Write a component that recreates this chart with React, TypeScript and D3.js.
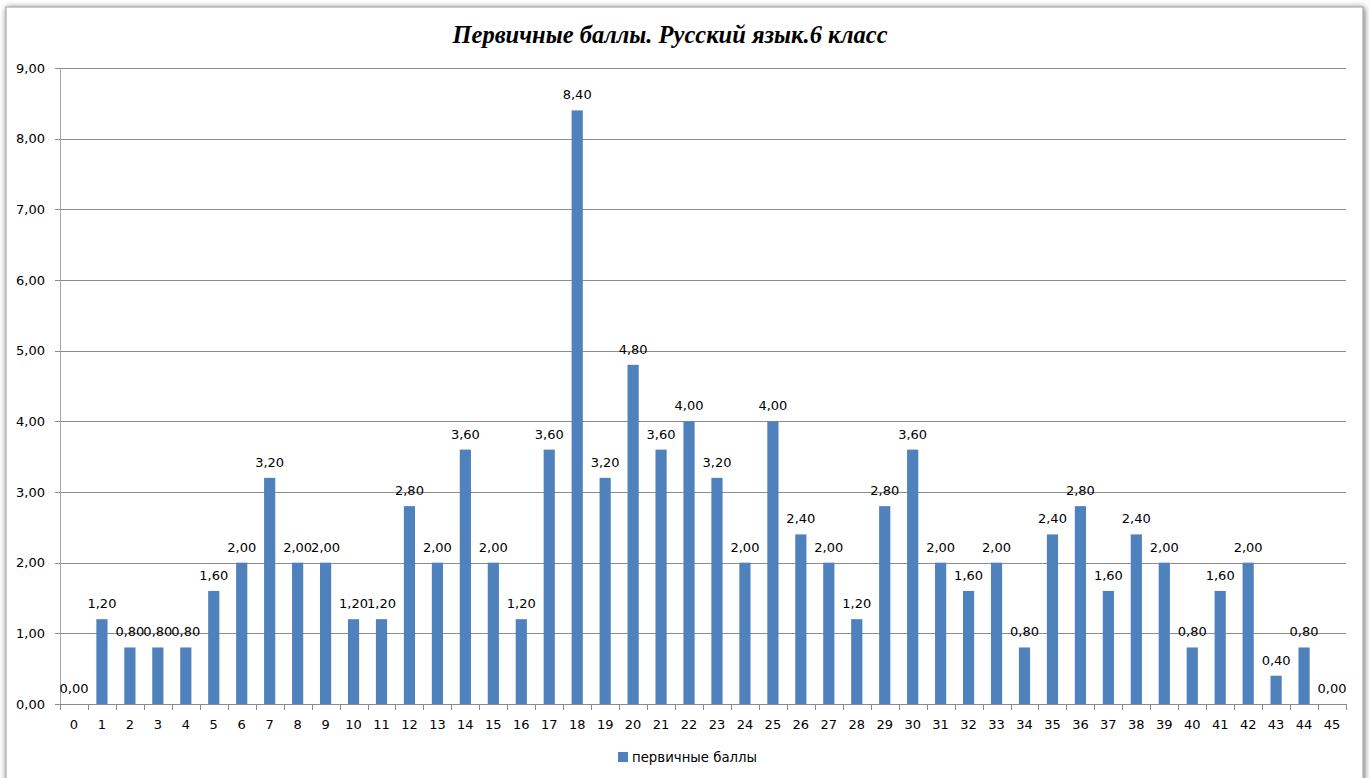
import React from "react";
import * as d3 from "d3";

const categories: string[] = Array.from({ length: 46 }, (_, i) => String(i));
const values: number[] = [
  0, 1.2, 0.8, 0.8, 0.8, 1.6, 2.0, 3.2, 2.0, 2.0, 1.2, 1.2, 2.8, 2.0, 3.6, 2.0,
  1.2, 3.6, 8.4, 3.2, 4.8, 3.6, 4.0, 3.2, 2.0, 4.0, 2.4, 2.0, 1.2, 2.8, 3.6,
  2.0, 1.6, 2.0, 0.8, 2.4, 2.8, 1.6, 2.4, 2.0, 0.8, 1.6, 2.0, 0.4, 0.8, 0,
];
const yTicks: number[] = [0, 1, 2, 3, 4, 5, 6, 7, 8, 9];
const title = "Первичные баллы. Русский язык.6 класс";
const seriesName = "первичные баллы";

const W = 1369;
const H = 778;
const plot = { left: 60, right: 1346, top: 68, bottom: 704 };
const fmt = (v: number) => v.toFixed(2).replace(".", ",");
const labelFont = "'DejaVu Sans', sans-serif";

export default function App() {
  const x = d3
    .scaleBand<string>()
    .domain(categories)
    .range([plot.left, plot.right])
    .paddingInner(0)
    .paddingOuter(0);
  const band = x.bandwidth();
  const y = d3.scaleLinear().domain([0, 9]).range([plot.bottom, plot.top]);
  const bw = band * 0.4;

  return (
    <svg
      width={W}
      height={H}
      style={{ position: "absolute", left: 0, top: 0, background: "#fff" }}
    >
      <defs>
        <filter id="sh" x="-5%" y="-5%" width="110%" height="110%">
          <feGaussianBlur in="SourceAlpha" stdDeviation="3" />
          <feOffset dx="1" dy="1" />
          <feComponentTransfer>
            <feFuncA type="linear" slope="0.6" />
          </feComponentTransfer>
          <feMerge>
            <feMergeNode />
            <feMergeNode in="SourceGraphic" />
          </feMerge>
        </filter>
      </defs>
      <rect x={0} y={0} width={W} height={H} fill="#fff" />
      <rect
        x={6}
        y={7}
        width={1357}
        height={790}
        fill="#fff"
        stroke="#9a9a9a"
        strokeWidth={1}
        filter="url(#sh)"
      />
      <text
        x={670}
        y={43}
        textAnchor="middle"
        fontFamily="'Liberation Serif', 'Times New Roman', serif"
        fontWeight="bold"
        fontStyle="italic"
        fontSize={24.5}
        fill="#000"
      >
        {title}
      </text>
      {yTicks.map((t) => (
        <g key={t}>
          <line
            x1={plot.left - 5}
            x2={plot.right}
            y1={Math.round(y(t)) + 0.5}
            y2={Math.round(y(t)) + 0.5}
            stroke="#8c8c8c"
            strokeWidth={1}
          />
          <text
            x={45}
            y={y(t) + 4.5}
            textAnchor="end"
            fontFamily={labelFont}
            fontSize={13}
            fill="#000"
          >
            {fmt(t)}
          </text>
        </g>
      ))}
      <line
        x1={plot.left + 0.5}
        x2={plot.left + 0.5}
        y1={plot.top}
        y2={plot.bottom}
        stroke="#a6a6a6"
      />
      {categories.map((c, i) => {
        const cx = x(c)! + band / 2;
        const v = values[i];
        return (
          <g key={c}>
            {v > 0 && (
              <rect
                x={cx - bw / 2}
                y={y(v)}
                width={bw}
                height={plot.bottom - y(v)}
                fill="#4F81BD"
              />
            )}
            <text
              x={cx}
              y={y(v) - 11}
              textAnchor="middle"
              fontFamily={labelFont}
              fontSize={13}
              fill="#000"
            >
              {fmt(v)}
            </text>
            <text
              x={cx}
              y={plot.bottom + 25}
              textAnchor="middle"
              fontFamily={labelFont}
              fontSize={13}
              fill="#000"
            >
              {c}
            </text>
          </g>
        );
      })}
      <line
        x1={plot.left}
        x2={plot.right}
        y1={plot.bottom + 0.5}
        y2={plot.bottom + 0.5}
        stroke="#8c8c8c"
      />
      {d3.range(categories.length + 1).map((i) => {
        const tx = Math.round(plot.left + band * i) + 0.5;
        return (
          <line
            key={i}
            x1={tx}
            x2={tx}
            y1={plot.bottom}
            y2={plot.bottom + 6}
            stroke="#8c8c8c"
          />
        );
      })}
      <rect x={618} y={752} width={10} height={10} fill="#4F81BD" />
      <text
        x={632}
        y={762}
        fontFamily={labelFont}
        fontSize={13.3}
        fill="#000"
      >
        {seriesName}
      </text>
    </svg>
  );
}
